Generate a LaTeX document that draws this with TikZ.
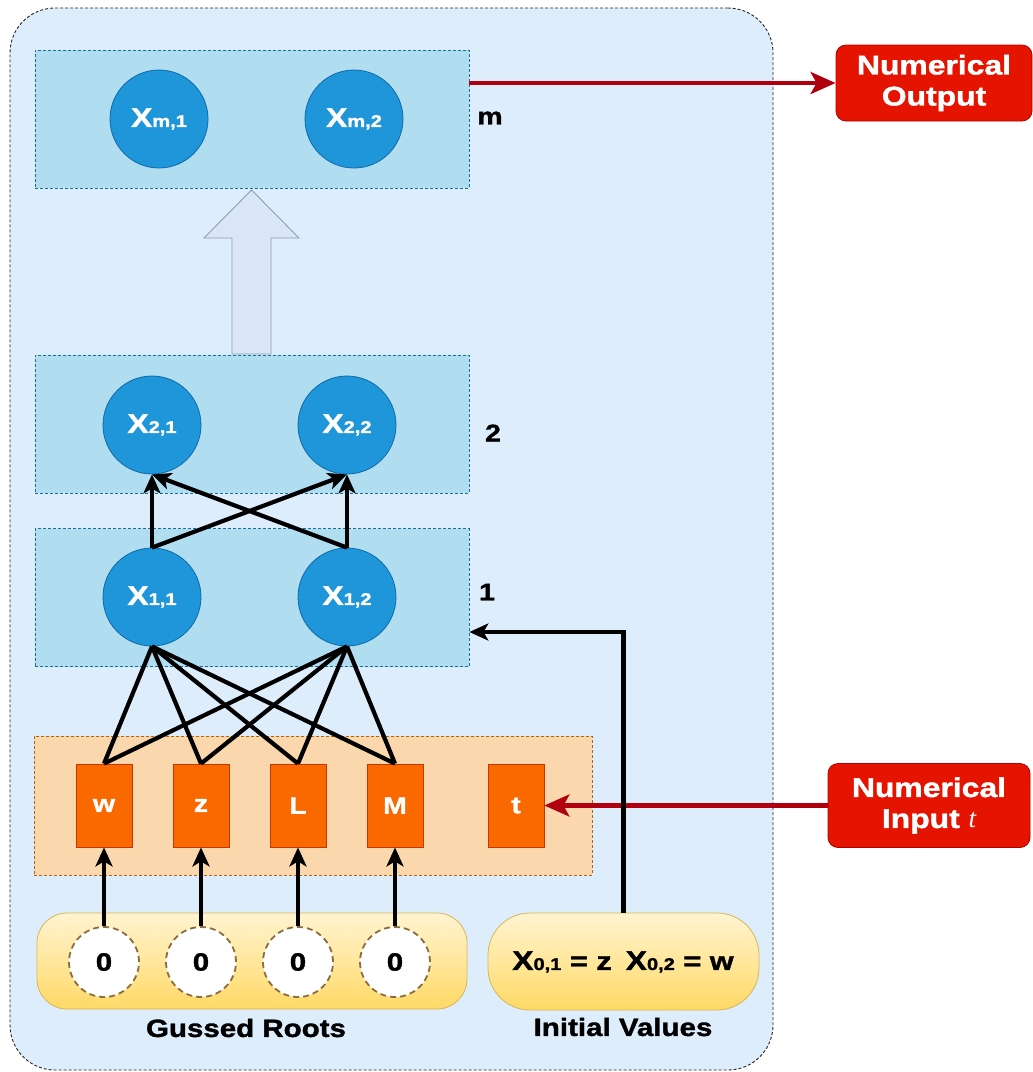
\documentclass[tikz,border=0pt]{standalone}
\usepackage{fontspec}
\setmainfont{Liberation Sans}[FakeStretch=1.18, BoldFeatures={FakeBold=1.4}]
\newfontfamily\serifit{Liberation Serif}
\usetikzlibrary{arrows.meta,calc}

\definecolor{framefill}{HTML}{DEEDFB}
\definecolor{layerfill}{HTML}{B1DDF0}
\definecolor{layerline}{HTML}{10739E}
\definecolor{neuronfill}{HTML}{1E96D9}
\definecolor{neuronline}{HTML}{0F6AA8}
\definecolor{inlayerfill}{HTML}{FAD7AC}
\definecolor{inlayerline}{HTML}{B46504}
\definecolor{varfill}{HTML}{FA6800}
\definecolor{varline}{HTML}{C73500}
\definecolor{yellowtop}{HTML}{FFF4D0}
\definecolor{yellowbot}{HTML}{FFD966}
\definecolor{yellowline}{HTML}{D6B656}
\definecolor{rootline}{HTML}{8C6D3F}
\definecolor{redfill}{HTML}{E51400}
\definecolor{redline}{HTML}{B20000}
\definecolor{redarrow}{HTML}{B0000F}
\definecolor{bigarrowfill}{HTML}{DAE6F8}
\definecolor{bigarrowline}{HTML}{8E9DB2}

\newcommand\fsz[1]{\fontsize{#1}{#1}\selectfont}
% neuron label: X with a smaller index on the same baseline
\newcommand\xsub[1]{{\fsz{27}X}{\fsz{17}#1}}

\tikzset{
  frame/.style={draw=black!85, dash pattern=on 3pt off 2pt, line width=0.9pt,
    fill=framefill, rounded corners=45pt, minimum width=763pt,
    minimum height=1062pt, inner sep=0pt},
  layer/.style={draw=layerline, dash pattern=on 3pt off 2pt, line width=0.7pt,
    fill=layerfill, minimum width=434pt, minimum height=138pt, inner sep=0pt},
  inlayer/.style={draw=inlayerline, dash pattern=on 3pt off 2pt, line width=0.7pt,
    fill=inlayerfill, minimum width=558pt, minimum height=139pt, inner sep=0pt},
  neuron/.style={circle, fill=neuronfill, draw=neuronline, line width=0.8pt,
    minimum size=98pt, inner sep=0pt, text=white, font=\bfseries},
  var/.style={rectangle, fill=varfill, draw=varline, line width=0.8pt,
    minimum width=56pt, minimum height=83pt, inner sep=0pt, text=white,
    font=\bfseries\fsz{24}},
  root/.style={circle, fill=white, draw=rootline, line width=1.8pt,
    dash pattern=on 6pt off 4pt, minimum size=70pt, inner sep=0pt,
    font=\bfseries\fsz{25}},
  yellowbox/.style={draw=yellowline, line width=0.8pt, top color=yellowtop,
    bottom color=yellowbot, inner sep=0pt},
  redbox/.style={fill=redfill, draw=redline, line width=0.8pt,
    rounded corners=10pt, text=white, align=center, inner sep=0pt,
    font=\bfseries\fontsize{27}{31}\selectfont},
  tag/.style={font=\bfseries\fsz{24}, inner sep=0pt},
  caption/.style={font=\bfseries\fsz{25}, inner sep=0pt},
  link/.style={line width=4.2pt, draw=black},
  feed/.style={line width=4.2pt, draw=black,
    -{Stealth[length=19pt,width=17pt,inset=5pt]}},
  redlink/.style={line width=4.2pt, draw=redarrow,
    -{Stealth[length=25pt,width=22pt,inset=6pt]}},
  bigarrow/.style={fill=bigarrowfill, draw=bigarrowline, line width=0.9pt,
    line join=miter}
}

\begin{document}
\begin{tikzpicture}[x=1pt,y=-1pt]
\fill[white] (0,0) rectangle (1033,1072);
\useasboundingbox (0,0) rectangle (1033,1072);

% outer container
\node[frame] (frame) at (391.5,539) {};

% hidden layers
\node[layer] (lm) at (252,119) {};
\node[layer] (l2) at (252,424) {};
\node[layer] (l1) at (252,597.5) {};
\node[inlayer] (lin) at (313,805.5) {};

% layer indices
\node[tag] (tm) at (490,118) {m};
\node[tag] (t2) at (493,433) {2};
\node[tag] (t1) at (487,592) {1};

% neurons
\node[neuron] (xm1) at (159,119) {\xsub{m,1}};
\node[neuron] (xm2) at (354,119) {\xsub{m,2}};
\node[neuron] (x21) at (152,425) {\xsub{2,1}};
\node[neuron] (x22) at (347,425) {\xsub{2,2}};
\node[neuron] (x11) at (152,597) {\xsub{1,1}};
\node[neuron] (x12) at (347,597) {\xsub{1,2}};

% block arrow between layer 2 and layer m
\draw[bigarrow] (232,354) -- (271,354) -- (271,238) -- (299,238)
  -- (251.5,190) -- (204,238) -- (232,238) -- cycle;

% input variables
\node[var] (vw) at (104,805.5) {w};
\node[var] (vz) at (201,805.5) {z};
\node[var] (vL) at (298,805.5) {L};
\node[var] (vM) at (395,805.5) {M};
\node[var] (vt) at (516,805.5) {t};

% guessed roots and initial values
\node[yellowbox, rounded corners=30pt, minimum width=430pt, minimum height=96pt]
  (roots) at (252,961) {};
\node[yellowbox, rounded corners=42pt, minimum width=271pt, minimum height=97pt]
  (init) at (623.5,961.5) {};
\node[root] (r1) at (104,962) {0};
\node[root] (r2) at (201,962) {0};
\node[root] (r3) at (298,962) {0};
\node[root] (r4) at (395,962) {0};
\node[font=\bfseries, inner sep=0pt] (initxt) at (623,962)
  {\xsub{0,1}\fsz{26} = z\hspace{14pt}\xsub{0,2}\fsz{26} = w};

\node[caption] (capr) at (246,1028) {Gussed Roots};
\node[caption] (capi) at (623,1027) {Initial Values};

% numerical input / output
\node[redbox, minimum width=196pt, minimum height=76pt] (out) at (934,83)
  {Numerical\\Output};
\node[redbox, minimum width=202pt, minimum height=84pt] (inp) at (929,805.5)
  {Numerical\\Input {\serifit\itshape\mdseries t}};

% connections: inputs to layer 1
\foreach \v in {vw,vz,vL,vM} {
  \draw[link] (x11.south) -- (\v.north);
  \draw[link] (x12.south) -- (\v.north);
}
% layer 1 to layer 2
\draw[feed] (x11.north) -- (x21.south);
\draw[feed] (x11.north) -- (x22.south);
\draw[feed] (x12.north) -- (x21.south);
\draw[feed] (x12.north) -- (x22.south);

% guessed roots feed the variables
\draw[feed] (r1.north) -- (vw.south);
\draw[feed] (r2.north) -- (vz.south);
\draw[feed] (r3.north) -- (vL.south);
\draw[feed] (r4.north) -- (vM.south);

% numerical input and output
\draw[redlink] (inp.west) -- (vt.east);
\draw[redlink] (out.west -| lm.east) -- (out.west);

% initial values enter layer 1
\draw[feed] (init.north) |- ([yshift=-34.5pt]l1.east);
\end{tikzpicture}
\end{document}
